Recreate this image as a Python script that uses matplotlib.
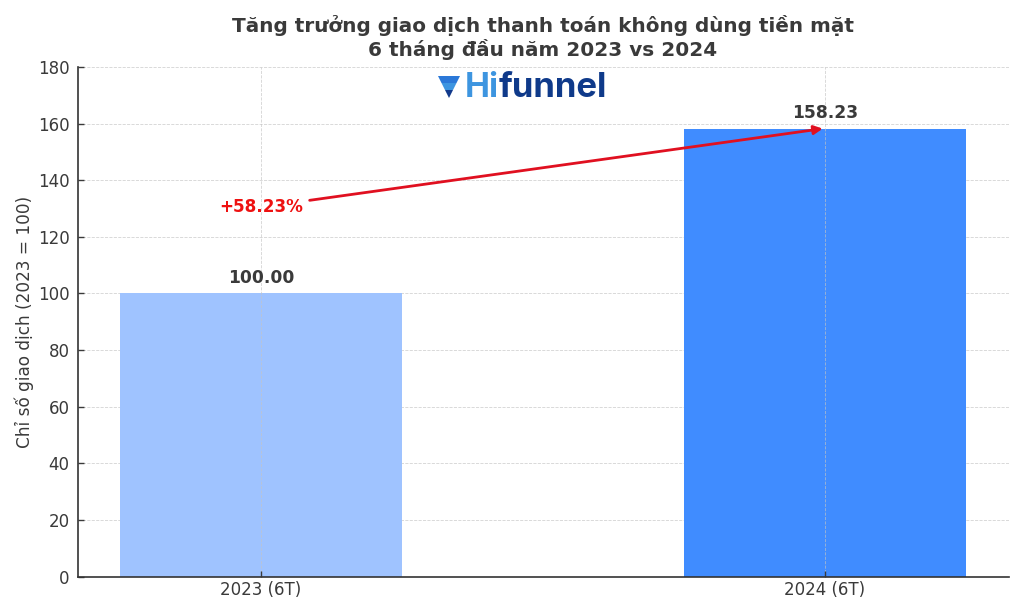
import matplotlib
matplotlib.use('Agg')
import matplotlib.pyplot as plt
from matplotlib.patches import Polygon

categories = ['2023 (6T)', '2024 (6T)']
values = [100.00, 158.23]
value_labels = ['100.00', '158.23']
growth_label = '+58.23%'
title = 'Tăng trưởng giao dịch thanh toán không dùng tiền mặt\n6 tháng đầu năm 2023 vs 2024'
ylabel = 'Chỉ số giao dịch (2023 = 100)'
colors = ['#9fc3ff', '#408cff']
W, H = 1024, 614

fig = plt.figure(figsize=(W/100, H/100), dpi=100)
ax = fig.add_axes([78/W, 1-576.6/H, (1009-78)/W, (576.6-67)/H])
ax.bar([0, 1], values, width=0.5, color=colors, zorder=2)
ax.set_xlim(-0.324, 1.326)
ax.set_ylim(0, 179.8)
ax.set_xticks([0, 1])
ax.set_xticklabels(categories)
ax.set_yticks(range(0, 181, 20))
ax.tick_params(labelsize=12, colors='#3a3a3a', length=4, width=1, direction='in', pad=6)
ax.tick_params(axis='x', pad=3.5)
ax.grid(True, linestyle='--', linewidth=0.6, color='#c4c4c4', alpha=0.75)
ax.set_axisbelow(True)
ax.xaxis.set_zorder(3)
for s in ['top', 'right']:
    ax.spines[s].set_visible(False)
for s in ['left', 'bottom']:
    ax.spines[s].set_color('#333333')
    ax.spines[s].set_linewidth(1.2)
ax.set_ylabel(ylabel, fontsize=12.2, color='#3a3a3a', labelpad=3)
for i, (v, l) in enumerate(zip(values, value_labels)):
    ax.text(i, v+2.2, l, ha='center', va='bottom', fontsize=12.3, fontweight='bold', color='#3a3a3a', zorder=5)
ax.annotate(growth_label, xy=(0.996, values[1]), xytext=(0, 130.5), ha='center', va='center',
            fontsize=12.1, fontweight='bold', color='#ee1111', zorder=6,
            arrowprops=dict(arrowstyle='-|>', color='#e01020', lw=2, mutation_scale=13, shrinkA=3, shrinkB=0))
fig.text(543/W, 1-37.6/H, title, ha='center', va='center', fontsize=14.45, fontweight='bold', color='#3a3a3a', linespacing=1.15)

# logo: stacked funnel mark + wordmark
def funnel_band(x0, x1, x2, x3, y0, y1, c):
    fig.patches.append(Polygon([(x0/W, 1-y0/H), (x1/W, 1-y0/H), (x2/W, 1-y1/H), (x3/W, 1-y1/H)], closed=True,
                               transform=fig.transFigure, facecolor=c, edgecolor='none'))
funnel_band(438, 460, 456.5, 441.5, 76, 83, '#2b78d8')
funnel_band(441.5, 456.5, 453, 445, 83, 90, '#3d95e0')
funnel_band(445, 453, 449, 449, 90, 98, '#123a8c')
fig.text(465/W, 1-97/H, 'Hi', ha='left', va='baseline', fontsize=24, fontweight='bold', color='#3d95e0', family='Inter')
fig.text(498.5/W, 1-97/H, 'funnel', ha='left', va='baseline', fontsize=25, fontweight='bold', color='#0f3a8a', family='Inter')
fig.savefig('out.png', dpi=100)
